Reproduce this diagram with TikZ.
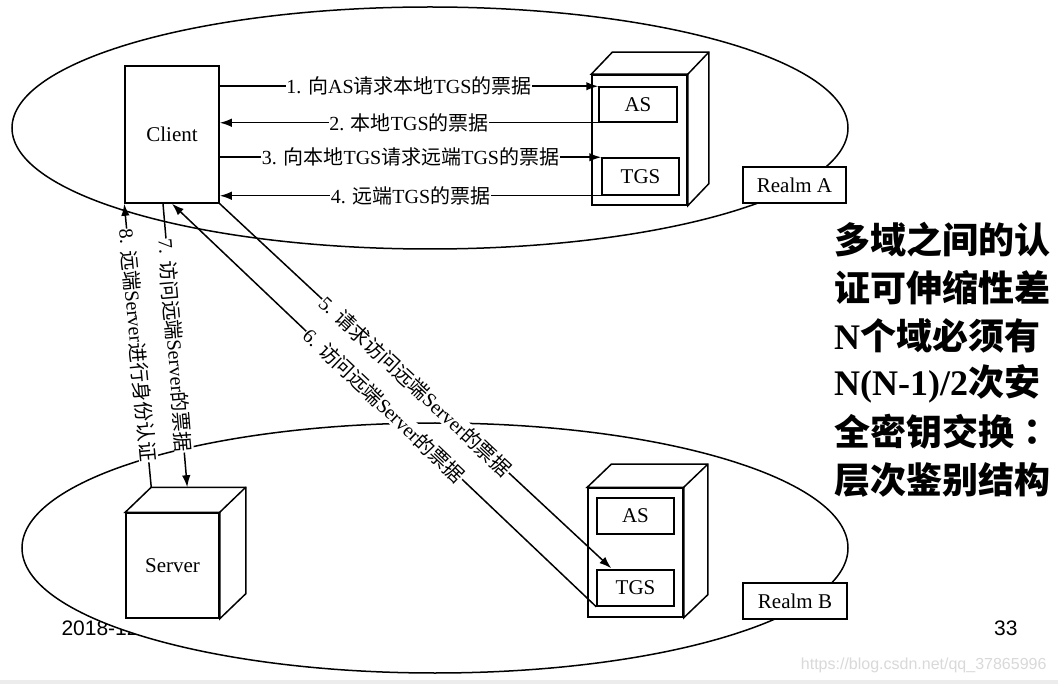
\documentclass[tikz,border=0pt]{standalone}
\usepackage{fontspec}
\setmainfont{Liberation Serif}
\newfontfamily\cjk{Noto Sans CJK SC}
\newfontfamily\cjktc{Noto Sans CJK TC}
\newfontfamily\sansf{Liberation Sans}
\usetikzlibrary{arrows.meta,calc}
\newcommand\zh[1]{{\cjk #1}}
\newcommand\cubeback[3]{%
  \draw[ln, fill=white] (#1.north west) -- ++(#2,#3) -- ($(#1.north east)+(#2,#3)$) -- ($(#1.south east)+(#2,#3)$) -- (#1.south east) -- (#1.north east) -- cycle;
  \draw[ln] (#1.north east) -- ++(#2,#3);}
\begin{document}
\begin{tikzpicture}[x=1pt,y=-1pt,
  every node/.style={font=\fontsize{21}{25}\selectfont},
  box/.style={draw, line width=1.5pt, fill=white, inner sep=0pt},
  lab/.style={fill=white, inner sep=0.5pt, font=\fontsize{20}{24}\selectfont},
  arr/.style={line width=1.5pt, -{Latex[length=12pt,width=8.5pt]}},
  ln/.style={line width=1.5pt},
  big/.style={anchor=west, inner sep=0pt, font=\bfseries\fontsize{36}{40}\selectfont},
]
\useasboundingbox (0,0) rectangle (1058,684);
\fill[white] (0,0) rectangle (1058,684);
\fill[gray!15] (0,680) rectangle (1058,684);

% footer
\node[anchor=west, font=\sansf\fontsize{21}{25}\selectfont] (date) at (58,628) {2018-12};
\node[anchor=east, font=\sansf\fontsize{21}{25}\selectfont] (page) at (1021,628) {33};
\node[anchor=east, text=gray!30, font=\sansf\fontsize{16}{18}\selectfont] (wm) at (1050,665) {https://blog.csdn.net/qq\_37865996};

% realms
\draw[ln, fill=white] (430,128) ellipse [x radius=418, y radius=121];
\draw[ln, fill=white] (435,548) ellipse [x radius=413, y radius=125];

% realm A
\node[box, minimum width=94pt, minimum height=137pt] (client) at (172,134.5) {Client};
\node[box, minimum width=95pt, minimum height=130pt] (cubeA) at (639.5,140) {};
\cubeback{cubeA}{21}{-22}
\node[box, minimum width=78pt, minimum height=35pt] (asA) at (638,104.5) {AS};
\node[box, minimum width=77pt, minimum height=37pt] (tgsA) at (640.5,176.5) {TGS};
\node[box, minimum width=103pt, minimum height=36pt] (realmA) at (794.5,185) {Realm A};

% realm B
\node[box, minimum width=93pt, minimum height=105pt] (server) at (172.5,565.5) {Server};
\cubeback{server}{26}{-25}
\node[box, minimum width=95pt, minimum height=129pt] (cubeB) at (635.5,552.5) {};
\cubeback{cubeB}{24}{-23}
\node[box, minimum width=77pt, minimum height=36pt] (asB) at (635.5,516) {AS};
\node[box, minimum width=77pt, minimum height=36pt] (tgsB) at (635.5,588) {TGS};
\node[box, minimum width=104pt, minimum height=36pt] (realmB) at (795,601) {Realm B};

\coordinate (srvtop) at ($(server.north west)+(26,-25)$);

% arrows 1-4
\draw[arr] (client.east |- asA.north west) -- node[lab]{1. \zh{向}AS\zh{请求本地}TGS\zh{的票据}} (asA.north west);
\draw[arr] (asA.south west) -- node[lab]{2. \zh{本地}TGS\zh{的票据}} (client.east |- asA.south west);
\draw[arr] (client.east |- tgsA.north west) -- node[lab]{3. \zh{向本地}TGS\zh{请求远端}TGS\zh{的票据}} (tgsA.north west);
\draw[arr] (tgsA.south west) -- node[lab]{4. \zh{远端}TGS\zh{的票据}} (client.east |- tgsA.south west);

% arrows 5-8
\draw[arr] (client.south east) -- node[lab, sloped]{5. \zh{请求访问远端}Server\zh{的票据}} ($(tgsB.north west)+(15,-1)$);
\draw[arr] (tgsB.south west) -- node[lab, sloped]{6. \zh{访问远端}Server\zh{的票据}} (client.south);
\draw[arr] ($(client.south)+(-9,0)$) -- node[lab, sloped]{7. \zh{访问远端}Server\zh{的票据}} ($(srvtop)+(36,0)$);
\draw[arr] (srvtop) -- node[lab, sloped]{8. \zh{远端}Server\zh{进行身份认证}} (client.south west);

% right text
\node[big] (r1) at (834,240) {\cjk 多域之间的认};
\node[big] (r2) at (834,288) {\cjk 证可伸缩性差};
\node[big] (r3) at (834,336) {N{\cjk 个域必须有}};
\node[big] (r4) at (834,384) {N(N-1)/2{\cjk 次安}};
\node[big] (r5) at (834,432) {{\cjk 全密钥交换}{\cjktc ：}};
\node[big] (r6) at (834,480) {\cjk 层次鉴别结构};
\end{tikzpicture}
\end{document}
